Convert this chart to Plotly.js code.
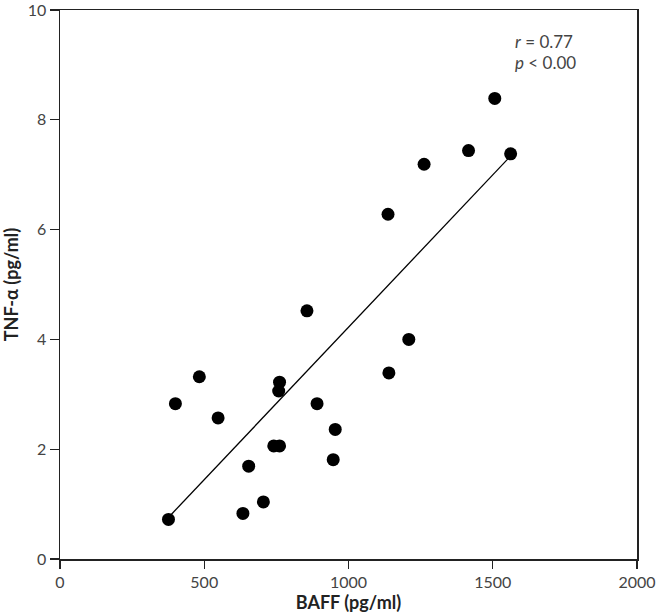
<!DOCTYPE html>
<html>
<head>
<meta charset="utf-8">
<script src="https://cdn.plot.ly/plotly-3.0.1.min.js"></script>
<style>html,body{margin:0;padding:0;background:#fff;}#chart{width:656px;height:616px;}</style>
</head>
<body>
<div id="chart"></div>
<script>
const baff = [376, 400, 483, 548, 634, 654, 705, 741, 761, 758, 761, 856, 891, 947, 954, 1140, 1209, 1137, 1262, 1416, 1507, 1562];
const tnf  = [0.72, 2.83, 3.32, 2.57, 0.83, 1.69, 1.04, 2.06, 2.06, 3.06, 3.22, 4.52, 2.83, 1.81, 2.36, 3.39, 4.00, 6.28, 7.19, 7.44, 8.39, 7.38];
const fitX = [380, 1560];
const fitY = [0.78, 7.33];
const xTicks = [0, 500, 1000, 1500, 2000];
const yTicks = [0, 2, 4, 6, 8, 10];

const tickFont = {family: 'Lato, "Open Sans", sans-serif', size: 16, color: '#444'};
const titleFont = {family: 'Lato, "Open Sans", sans-serif', size: 18, color: '#222', weight: 700};

const data = [
  {x: fitX, y: fitY, mode: 'lines', line: {color: '#000', width: 1.3}, hoverinfo: 'skip', showlegend: false},
  {x: baff, y: tnf, mode: 'markers', marker: {color: '#000', size: 13}, showlegend: false}
];

const layout = {
  width: 656, height: 616,
  margin: {l: 60, r: 19, t: 10, b: 57},
  paper_bgcolor: '#fff', plot_bgcolor: '#fff',
  xaxis: {
    range: [0, 2000], tickvals: xTicks, ticktext: xTicks.map(String),
    showgrid: false, zeroline: false, showline: true, mirror: true,
    linecolor: '#222', linewidth: 1.5, ticks: 'outside', ticklen: 8, tickcolor: '#222', tickwidth: 1.2,
    tickfont: tickFont, ticklabeloverflow: 'allow',
    title: {text: 'BAFF (pg/ml)', font: titleFont, standoff: 6}
  },
  yaxis: {
    range: [0, 10], tickvals: yTicks, ticktext: yTicks.map(String),
    showgrid: false, zeroline: false, showline: true, mirror: true,
    linecolor: '#222', linewidth: 1.5, ticks: 'outside', ticklen: 9, tickcolor: '#222', tickwidth: 1.2,
    tickfont: tickFont, ticklabeloverflow: 'allow',
    title: {text: 'TNF-α (pg/ml)', font: titleFont, standoff: 14}
  },
  annotations: [
    {xref: 'paper', yref: 'paper', x: 0.785, y: 0.943, xanchor: 'left', yanchor: 'middle', showarrow: false,
     text: '<i>r</i> = 0.77', font: {family: tickFont.family, size: 17, color: '#444'}},
    {xref: 'paper', yref: 'paper', x: 0.785, y: 0.904, xanchor: 'left', yanchor: 'middle', showarrow: false,
     text: '<i>p</i> &lt; 0.00', font: {family: tickFont.family, size: 17, color: '#444'}}
  ]
};

Plotly.newPlot('chart', data, layout, {displayModeBar: false, staticPlot: true});
</script>
</body>
</html>
